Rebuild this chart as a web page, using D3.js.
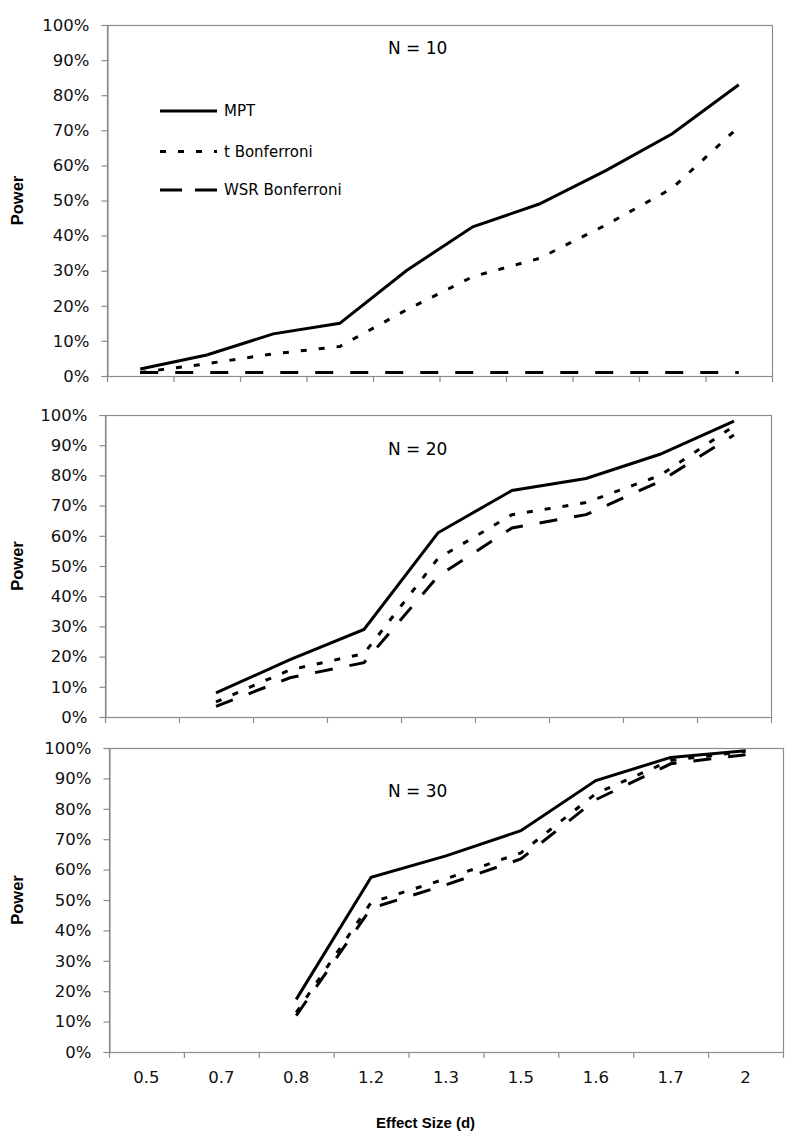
<!DOCTYPE html>
<html>
<head>
<meta charset="utf-8">
<script src="https://cdn.jsdelivr.net/npm/d3@7"></script>
<style>
  html, body { margin: 0; padding: 0; background: #fff; }
  svg { display: block; }
</style>
</head>
<body>
<svg id="chart" width="800" height="1141"></svg>
<script>
// ---------------- data ----------------
const effectSizes = ["0.5", "0.7", "0.8", "1.2", "1.3", "1.5", "1.6", "1.7", "2"];
const panel1Slots = ["s1", "s2", "s3", "s4", "s5", "s6", "s7", "s8", "s9", "s10"];
const yTicks = [0, 0.1, 0.2, 0.3, 0.4, 0.5, 0.6, 0.7, 0.8, 0.9, 1.0];
const seriesNames = ["MPT", "t Bonferroni", "WSR Bonferroni"];

// N = 10 (ten slots, unlabeled)
const n10X   = ["s1", "s2", "s3", "s4", "s5", "s6", "s7", "s8", "s9", "s10"];
const n10MPT = [0.02, 0.06, 0.12, 0.15, 0.30, 0.425, 0.49, 0.585, 0.69, 0.83];
const n10T   = [0.01, 0.035, 0.063, 0.084, 0.188, 0.283, 0.335, 0.43, 0.535, 0.71];
const n10WSR = [0.01, 0.01, 0.01, 0.01, 0.01, 0.01, 0.01, 0.01, 0.01, 0.01];

// N = 20
const n20X   = ["0.7", "0.8", "1.2", "1.3", "1.5", "1.6", "1.7", "2"];
const n20MPT = [0.08, 0.19, 0.29, 0.61, 0.75, 0.79, 0.87, 0.98];
const n20T   = [0.05, 0.156, 0.21, 0.525, 0.67, 0.71, 0.80, 0.963];
const n20WSR = [0.035, 0.13, 0.18, 0.466, 0.626, 0.67, 0.78, 0.934];

// N = 30
const n30X   = ["0.8", "1.2", "1.3", "1.5", "1.6", "1.7", "2"];
const n30MPT = [0.173, 0.575, 0.645, 0.728, 0.893, 0.969, 0.991];
const n30T   = [0.13, 0.492, 0.57, 0.655, 0.85, 0.959, 0.989];
const n30WSR = [0.12, 0.473, 0.55, 0.635, 0.83, 0.948, 0.978];

// ---------------- drawing ----------------
const svg = d3.select("#chart");
const dashes = { "MPT": null, "t Bonferroni": "6,12", "WSR Bonferroni": "18,17" };

const panels = [
  { title: "N = 10", cats: panel1Slots, xs: n10X, series: [n10MPT, n10T, n10WSR],
    left: 107, right: 772, top: 25, bottom: 376, labels: false, legend: true, titleY: 54 },
  { title: "N = 20", cats: effectSizes, xs: n20X, series: [n20MPT, n20T, n20WSR],
    left: 105, right: 771, top: 415, bottom: 717, labels: false, legend: false, titleY: 455 },
  { title: "N = 30", cats: effectSizes, xs: n30X, series: [n30MPT, n30T, n30WSR],
    left: 109, right: 783, top: 748, bottom: 1052, labels: true, legend: false, titleY: 797 }
];

panels.forEach(p => {
  const x = d3.scaleBand().domain(p.cats).range([p.left, p.right]).padding(0);
  const y = d3.scaleLinear().domain([0, 1]).range([p.bottom, p.top]);
  const g = svg.append("g");

  // frame
  g.append("rect")
    .attr("x", p.left + 0.5).attr("y", p.top + 0.5)
    .attr("width", p.right - p.left).attr("height", p.bottom - p.top)
    .attr("fill", "none").attr("stroke", "#8c8c8c").attr("stroke-width", 1.2);

  // y axis
  const ya = g.append("g").attr("transform", `translate(${p.left + 0.5},0)`)
    .call(d3.axisLeft(y).tickValues(yTicks).tickFormat(d3.format(".0%")).tickSize(6).tickPadding(12));
  ya.select(".domain").attr("stroke", "#8c8c8c").attr("stroke-width", 1.2);
  ya.selectAll(".tick line").attr("stroke", "#8c8c8c").attr("stroke-width", 1.2);
  ya.selectAll(".tick text")
    .attr("font-family", "DejaVu Sans").attr("font-size", 16.5).attr("fill", "#111");

  // x axis tick marks at band boundaries
  const bounds = p.cats.map(c => x(c)).concat([x(p.cats[p.cats.length - 1]) + x.bandwidth()]);
  g.selectAll(".xb").data(bounds).enter().append("line")
    .attr("x1", d => d + 0.5).attr("x2", d => d + 0.5)
    .attr("y1", p.bottom).attr("y2", p.bottom + 6)
    .attr("stroke", "#8c8c8c").attr("stroke-width", 1.2);

  if (p.labels) {
    const xa = g.append("g").attr("transform", `translate(0,${p.bottom})`)
      .call(d3.axisBottom(x).tickSize(0).tickPadding(19));
    xa.select(".domain").remove();
    xa.selectAll(".tick text")
      .attr("font-family", "DejaVu Sans").attr("font-size", 16.5).attr("fill", "#111");
  }

  // title
  g.append("text").attr("x", 388).attr("y", p.titleY)
    .attr("font-family", "DejaVu Sans").attr("font-size", 17).attr("fill", "#000")
    .text(p.title);

  // Power label
  g.append("text")
    .attr("transform", `translate(23,${(p.top + p.bottom) / 2}) rotate(-90)`)
    .attr("text-anchor", "middle")
    .attr("font-family", "Liberation Sans").attr("font-weight", "bold")
    .attr("font-size", 16.5).attr("fill", "#000")
    .text("Power");

  // lines
  const line = d3.line()
    .x(d => x(d[0]) + x.bandwidth() / 2)
    .y(d => y(d[1]));
  p.series.forEach((vals, i) => {
    const pts = p.xs.map((c, j) => [c, vals[j]]);
    g.append("path").datum(pts)
      .attr("d", line)
      .attr("fill", "none").attr("stroke", "#000").attr("stroke-width", 3)
      .attr("stroke-dasharray", dashes[seriesNames[i]]);
  });

  // legend
  if (p.legend) {
    const ly = [111, 151.5, 190];
    seriesNames.forEach((name, i) => {
      g.append("line").attr("x1", 160).attr("x2", 217).attr("y1", ly[i]).attr("y2", ly[i])
        .attr("stroke", "#000").attr("stroke-width", 3)
        .attr("stroke-dasharray", i === 2 ? "22,13" : dashes[name]);
      g.append("text").attr("x", 224).attr("y", ly[i] + 5)
        .attr("font-family", "DejaVu Sans").attr("font-size", 15).attr("fill", "#000")
        .text(name);
    });
  }
});

// x axis title
svg.append("text").attr("x", 425.5).attr("y", 1128)
  .attr("text-anchor", "middle")
  .attr("font-family", "Liberation Sans").attr("font-weight", "bold").attr("font-size", 15)
  .attr("fill", "#000")
  .text("Effect Size (d)");
</script>
</body>
</html>
